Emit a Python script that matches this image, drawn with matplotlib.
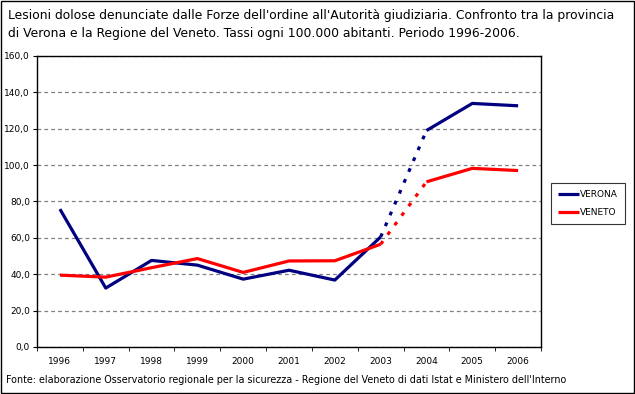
import matplotlib
matplotlib.use("Agg")
import matplotlib.pyplot as plt
import numpy as np

# --------------------------------------------------
# Data (rates per 100,000 inhabitants)
# --------------------------------------------------
years = ["1996", "1997", "1998", "1999", "2000", "2001",
         "2002", "2003", "2004", "2005", "2006"]
verona = [75.8, 32.4, 47.6, 45.0, 37.3, 42.2, 36.8, 60.5, 119.0, 133.9, 132.6]
veneto = [39.5, 38.4, 43.6, 48.6, 41.0, 47.3, 47.4, 56.5, 90.8, 98.2, 97.0]
y_ticks = [0, 20, 40, 60, 80, 100, 120, 140, 160]

title = ("Lesioni dolose denunciate dalle Forze dell'ordine all'Autorità giudiziaria. "
         "Confronto tra la provincia\n"
         "di Verona e la Regione del Veneto. Tassi ogni 100.000 abitanti. Periodo 1996-2006.")
source = ("Fonte: elaborazione Osservatorio regionale per la sicurezza - Regione del Veneto "
          "di dati Istat e Ministero dell'Interno")


def main():
    plt.rcParams["font.family"] = ["DejaVu Sans"]
    fig = plt.figure(figsize=(6.35, 3.94), dpi=100)
    ax = fig.add_axes([0.0583, 0.1193, 0.7937, 0.7387])

    x = np.arange(len(years))
    gap = 7  # index of 2003, dotted segment 2003-2004

    for vals, col, name in [(verona, "#000080", "VERONA"), (veneto, "#ff0000", "VENETO")]:
        v = np.array(vals)
        ax.plot(x[:gap + 1], v[:gap + 1], color=col, lw=2.3, label=name,
                solid_capstyle="butt")
        ax.plot(x[gap:gap + 2], v[gap:gap + 2], color=col, lw=2.3,
                linestyle=(0, (1.2, 2.5)))
        ax.plot(x[gap + 1:], v[gap + 1:], color=col, lw=2.3, solid_capstyle="butt")

    ax.set_xlim(-0.5, len(years) - 0.5)
    ax.set_ylim(0, 160)
    ax.set_yticks(y_ticks)
    ax.set_yticklabels([f"{t:.1f}".replace(".", ",") for t in y_ticks], fontsize=6.5)
    ax.set_xticks(x)
    ax.set_xticklabels(years, fontsize=6.5)
    ax.set_xticks(np.arange(-0.5, len(years)), minor=True)
    ax.tick_params(axis="x", which="major", length=0, pad=7)
    ax.tick_params(axis="x", which="minor", length=3, direction="out")
    ax.tick_params(axis="y", length=3, direction="out", pad=2)

    ax.yaxis.grid(True, color="#808080", linestyle=(0, (3, 2.5)), lw=0.9)
    ax.set_axisbelow(True)
    for s in ax.spines.values():
        s.set_linewidth(1.0)
        s.set_color("black")

    leg = fig.legend(loc="upper left", bbox_to_anchor=(546 / 635, 1 - 178 / 394),
                     fontsize=6.5, frameon=True, fancybox=False, edgecolor="black",
                     handlelength=2.4, handletextpad=0.1, labelspacing=1.0,
                     borderpad=0.8)
    leg.get_frame().set_linewidth(0.8)

    fig.text(8 / 635, 1 - 9 / 394, title, fontsize=8.9, va="top",
             ha="left", linespacing=1.45, fontweight="normal")
    fig.text(6 / 635, 1 - 380 / 394, source, fontsize=6.9, va="center", ha="left")

    # outer frame
    fig.patches.append(plt.Rectangle((0.001, 0.002), 0.997, 0.996,
                                     transform=fig.transFigure, fill=False,
                                     edgecolor="black", lw=1.0))

    fig.savefig("out.png", dpi=100)


if __name__ == "__main__":
    main()
